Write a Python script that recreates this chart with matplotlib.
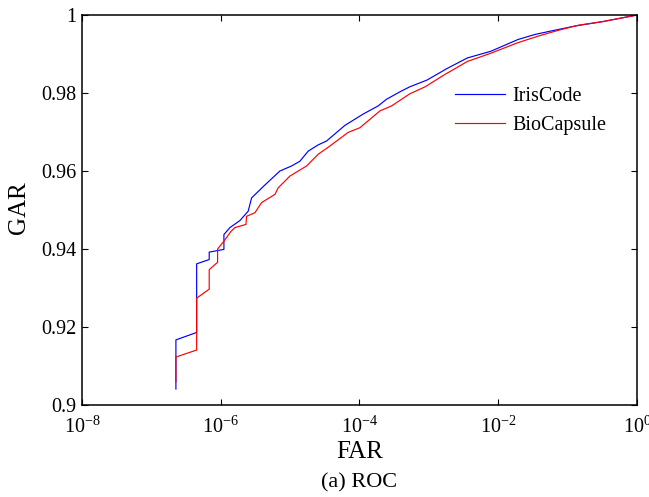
import matplotlib
matplotlib.use("Agg")
import matplotlib.pyplot as plt
from matplotlib.ticker import FuncFormatter, NullLocator

plt.rcParams.update({
	"font.family": "Liberation Serif",
	"mathtext.fontset": "stix",
	"xtick.direction": "in",
	"ytick.direction": "in",
	"xtick.top": True,
	"ytick.right": True,
})

# ROC points (log10 FAR, GAR)
iris_logfar = [-6.646, -6.646, -6.347, -6.347, -6.166, -6.166, -5.954, -5.954, -5.867, -5.723,
	-5.604, -5.555, -5.388, -5.147, -4.978, -4.859, -4.739, -4.595, -4.474, -4.210,
	-3.947, -3.730, -3.610, -3.418, -3.274, -3.029, -2.736, -2.444, -2.107, -1.718,
	-1.473, -1.239, -0.886, -0.497, 0.0]
iris_gar = [0.9041, 0.9167, 0.9186, 0.9362, 0.9373, 0.9392, 0.9399, 0.9437, 0.9455, 0.9473,
	0.9497, 0.9531, 0.9560, 0.9600, 0.9613, 0.9625, 0.9651, 0.9667, 0.9677, 0.9717,
	0.9746, 0.9767, 0.9784, 0.9803, 0.9816, 0.9833, 0.9863, 0.9890, 0.9907, 0.9937,
	0.9950, 0.9959, 0.9972, 0.9983, 1.0]

bio_logfar = [-6.646, -6.646, -6.347, -6.347, -6.166, -6.166, -6.045, -6.045, -5.954, -5.853,
	-5.795, -5.637, -5.627, -5.507, -5.411, -5.219, -5.171, -5.003, -4.762, -4.595,
	-4.427, -4.163, -3.994, -3.706, -3.537, -3.418, -3.274, -3.053, -2.784, -2.444,
	-2.107, -1.718, -1.422, -1.130, -0.839, -0.497, 0.0]
bio_gar = [0.9060, 0.9123, 0.9141, 0.9274, 0.9297, 0.9347, 0.9366, 0.9400, 0.9420, 0.9445,
	0.9455, 0.9463, 0.9484, 0.9493, 0.9519, 0.9540, 0.9557, 0.9587, 0.9613, 0.9643,
	0.9664, 0.9699, 0.9711, 0.9754, 0.9767, 0.9781, 0.9798, 0.9816, 0.9846, 0.9881,
	0.9902, 0.9929, 0.9946, 0.9961, 0.9974, 0.9983, 1.0]

x_ticks = [1e-8, 1e-6, 1e-4, 1e-2, 1]
y_ticks = [0.9, 0.92, 0.94, 0.96, 0.98, 1.0]

iris_far = [10 ** v for v in iris_logfar]
bio_far = [10 ** v for v in bio_logfar]

fig = plt.figure(figsize=(6.49, 4.97), dpi=100)
ax = fig.add_axes([0.1263, 0.1851, 0.8552, 0.7847])

ax.plot(iris_far, iris_gar, color="#0000FF", lw=0.85, label="IrisCode")
ax.plot(bio_far, bio_gar, color="#FF0000", lw=0.85, label="BioCapsule")

ax.set_xscale("log")
ax.set_xlim(1e-8, 1)
ax.set_ylim(0.9, 1.0)
ax.set_xticks(x_ticks)
ax.xaxis.set_minor_locator(NullLocator())
ax.set_yticks(y_ticks)
ax.yaxis.set_major_formatter(FuncFormatter(lambda v, p: f"{v:g}"))
ax.tick_params(labelsize=14.5, length=4, width=0.8)
ax.tick_params(axis="x", pad=8.5)
ax.tick_params(axis="y", pad=4)
for s in ax.spines.values():
	s.set_linewidth(1.1)

ax.set_xlabel("FAR", fontsize=18)
ax.xaxis.set_label_coords(0.5, -0.1205)
ax.xaxis.label.set_va("center")
ax.set_ylabel("GAR", fontsize=18)
ax.yaxis.set_label_coords(-0.1135, 0.505)
ax.yaxis.label.set_ha("center")
ax.yaxis.label.set_va("center")

leg = ax.legend(loc="center left", bbox_to_anchor=(0.672, 0.754), frameon=False,
	fontsize=14.5, handlelength=2.5, handletextpad=0.35, labelspacing=0.45,
	borderpad=0, borderaxespad=0)

fig.text(0.5 * (0.1263 + 0.9815), 1 - 483 / 497, "(a) ROC", ha="center", va="center", fontsize=16)

fig.savefig("out.png", dpi=100)
